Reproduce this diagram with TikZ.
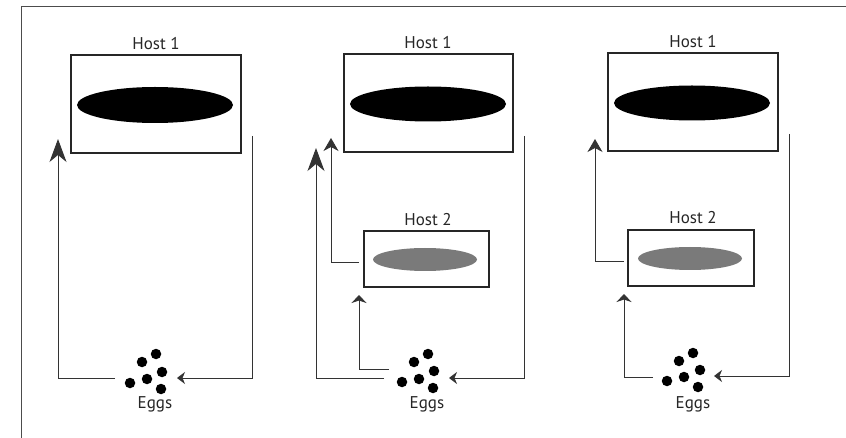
\documentclass[tikz,border=0pt]{standalone}
\usepackage{fontspec}
\setmainfont{PT Sans}
\usetikzlibrary{arrows.meta,shapes.geometric}
\begin{document}
\begin{tikzpicture}[x=1pt,y=-1pt,
  hostbox/.style={draw=black!85,line width=1.2pt,inner sep=0pt},
  blob/.style={ellipse,fill=black,inner sep=0pt},
  gblob/.style={ellipse,fill=black!52,inner sep=0pt},
  egg/.style={circle,fill=black,inner sep=0pt,minimum size=10.5pt},
  lbl/.style={font=\fontsize{17}{20}\selectfont,anchor=base,text=black!85,inner sep=0pt},
  link/.style={draw=black!80,line width=0.9pt},
  bigtip/.style={-{Stealth[length=23pt,width=17pt,inset=7pt]}},
  midtip/.style={-{Stealth[length=13pt,width=15pt,inset=4pt]}},
  smalltip/.style={-{Stealth[length=8pt,width=15pt,inset=2.5pt]}},
  eggtip/.style={-{Stealth[length=8pt,width=12pt,inset=2.5pt]}},
  frame/.style={draw=black!70,line width=1pt}]
\useasboundingbox (0,0) rectangle (846,438);
% frame
\coordinate (fa) at (846,7);
\coordinate (fb) at (21,7);
\coordinate (fc) at (21,438);
\draw[frame] (fa) -- (fb) -- (fc);

% ---------- panel 1 ----------
\node[hostbox,minimum width=170pt,minimum height=98pt] (h1a) at (156,104) {};
\node[blob,minimum width=156pt,minimum height=36pt] (b1a) at (155,105) {};
\node[lbl] (l1a) at (156,50) {Host 1};
\foreach \i/\dx/\dy in {1/0/0,2/-14/8,3/6/18,4/-9/25,5/-26/29,6/5/35}
  \node[egg] (ea\i) at (156+\dx,354+\dy) {};
\node[lbl] (ega) at (155,408) {Eggs};
\coordinate (a1) at (252,136);
\coordinate (a2) at (252,378);
\coordinate (a3) at (177,378);
\coordinate (a4) at (115,378);
\coordinate (a5) at (58,378);
\coordinate (a6) at (58,139);
\draw[link,eggtip] (a1) -- (a2) -- (a3);
\draw[link,bigtip] (a4) -- (a5) -- (a6);

% ---------- panel 2 ----------
\node[hostbox,minimum width=169pt,minimum height=98pt] (h1b) at (428.5,103) {};
\node[blob,minimum width=156pt,minimum height=35pt] (b1b) at (428,104) {};
\node[lbl] (l1b) at (428,49) {Host 1};
\node[hostbox,minimum width=125pt,minimum height=56pt] (h2b) at (426.5,259) {};
\node[gblob,minimum width=104pt,minimum height=23pt] (b2b) at (425,259.5) {};
\node[lbl] (l2b) at (428,226) {Host 2};
\foreach \i/\dx/\dy in {1/0/0,2/-14/8,3/6/17,4/-9/25,5/-26/28,6/5/34}
  \node[egg] (eb\i) at (428+\dx,354+\dy) {};
\node[lbl] (egb) at (427,408) {Eggs};
\coordinate (b1) at (524,136);
\coordinate (b2) at (524,378);
\coordinate (b3) at (449,378);
\coordinate (b4) at (384,378);
\coordinate (b5) at (316,378);
\coordinate (b6) at (316,148);
\coordinate (b7) at (359,262);
\coordinate (b8) at (331,262);
\coordinate (b9) at (331,138);
\coordinate (b10) at (389,369);
\coordinate (b11) at (359,369);
\coordinate (b12) at (359,295);
\draw[link,eggtip] (b1) -- (b2) -- (b3);
\draw[link,bigtip] (b4) -- (b5) -- (b6);
\draw[link,midtip] (b7) -- (b8) -- (b9);
\draw[link,smalltip] (b10) -- (b11) -- (b12);

% ---------- panel 3 ----------
\node[hostbox,minimum width=170pt,minimum height=98pt] (h1c) at (693,102) {};
\node[blob,minimum width=156pt,minimum height=35pt] (b1c) at (692,103) {};
\node[lbl] (l1c) at (693,48) {Host 1};
\node[hostbox,minimum width=126pt,minimum height=56pt] (h2c) at (691,258) {};
\node[gblob,minimum width=104pt,minimum height=23pt] (b2c) at (690,258.5) {};
\node[lbl] (l2c) at (693,224) {Host 2};
\foreach \i/\dx/\dy in {1/0/0,2/-14/8,3/7/17,4/-9/24,5/-26/28,6/5/34}
  \node[egg] (ec\i) at (693+\dx,353+\dy) {};
\node[lbl] (egc) at (693,408) {Eggs};
\coordinate (c1) at (789,134);
\coordinate (c2) at (789,376);
\coordinate (c3) at (714,376);
\coordinate (c4) at (624,261);
\coordinate (c5) at (595,261);
\coordinate (c6) at (595,139);
\coordinate (c7) at (653,377);
\coordinate (c8) at (624,377);
\coordinate (c9) at (624,294);
\draw[link,eggtip] (c1) -- (c2) -- (c3);
\draw[link,midtip] (c4) -- (c5) -- (c6);
\draw[link,smalltip] (c7) -- (c8) -- (c9);
\end{tikzpicture}
\end{document}
